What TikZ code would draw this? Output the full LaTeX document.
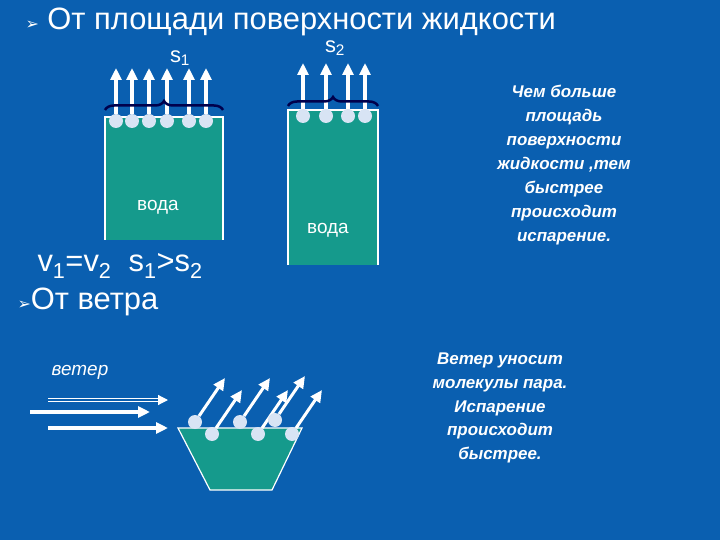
\documentclass[tikz,border=0pt]{standalone}
\usepackage{fontspec}
\setmainfont{Liberation Sans}
\newfontfamily\djvfont{DejaVu Sans}
\usetikzlibrary{arrows.meta,decorations.pathreplacing}
\definecolor{bg}{HTML}{0A5FB0}
\definecolor{water}{HTML}{159A8C}
\definecolor{mol}{HTML}{D8E4F4}
\begin{document}
\begin{tikzpicture}[x=1bp,y=-1bp,
  arr/.style={white,line width=3.5bp,-{Triangle[length=12bp,width=11bp]}},
  molc/.style={circle,fill=mol,inner sep=0,minimum size=14bp},
  tank/.style={fill=water,draw=white,line width=1.2bp},
  txt/.style={white,font=\fontsize{22}{24}\selectfont},
  note/.style={white,font=\bfseries\itshape\fontsize{17}{24}\selectfont,align=center},
  brc/.style={draw=black!70!blue,line width=2.5bp,decorate,decoration={brace,amplitude=9bp}}]
\useasboundingbox[fill=bg] (0,0) rectangle (720,540);
\node[white,anchor=west,font=\fontsize{31}{33}\selectfont] (t1) at (22,22) {{\djvfont\fontsize{16}{16}\selectfont ➢}\ От площади поверхности жидкости};
% tank 1
\path[tank] (105,240) -- (105,117) -- (223,117) -- (223,240);
\node[white,font=\fontsize{19}{21}\selectfont] (w1) at (158,207) {вода};
\foreach \x [count=\i] in {116,132,149,167,189,206}{
  \node[molc] (a\i) at (\x,121) {};
  \coordinate (a\i t) at (\x,68);
  \draw[arr] (a\i) -- (a\i t);}
\draw[brc] (105,110) -- (223,110);
\node[txt] (s1) at (180,58) {s\textsubscript{1}};
% tank 2
\path[tank] (288,265) -- (288,110) -- (378,110) -- (378,265);
\node[white,font=\fontsize{19}{21}\selectfont] (w2) at (328,230) {вода};
\foreach \x [count=\i] in {303,326,348,365}{
  \node[molc] (b\i) at (\x,116) {};
  \coordinate (b\i t) at (\x,63);
  \draw[arr] (b\i) -- (b\i t);}
\draw[brc] (288,106) -- (378,106);
\node[txt] (s2) at (335,48) {s\textsubscript{2}};
\node[note] (n1) at (564,165) {Чем больше\\площадь\\поверхности\\жидкости ,тем\\быстрее\\происходит\\испарение.};
\node[white,anchor=west,font=\fontsize{31}{33}\selectfont] (eq) at (34,266) {v\textsubscript{1}=v\textsubscript{2}\ \ s\textsubscript{1}>s\textsubscript{2}};
\node[white,anchor=west,font=\fontsize{31}{33}\selectfont] (t2) at (14,302) {{\djvfont\fontsize{16}{16}\selectfont ➢}От ветра};
% wind
\node[white,font=\itshape\fontsize{19}{21}\selectfont] (vt) at (80,372) {ветер};
\coordinate (w1a) at (48,400); \coordinate (w1b) at (168,400);
\coordinate (w2a) at (30,412); \coordinate (w2b) at (150,412);
\coordinate (w3a) at (48,428); \coordinate (w3b) at (168,428);
\draw[white,double=bg,double distance=1.5bp,line width=1.2bp,-{Triangle[length=10bp,width=10bp]}] (w1a) -- (w1b);
\draw[arr,line width=4.5bp] (w2a) -- (w2b);
\draw[arr,line width=4.5bp] (w3a) -- (w3b);
\path[tank] (178,428) -- (302,428) -- (272,490) -- (210,490) -- cycle;
\foreach \x/\y [count=\i] in {195/422,212/434,240/422,258/434,275/420,292/434}{
  \node[molc] (c\i) at (\x,\y) {};
  \coordinate (c\i t) at (\x+30,\y-44);
  \draw[arr,line width=3bp] (c\i) -- (c\i t);}
\node[note] (n2) at (500,408) {Ветер уносит\\молекулы пара.\\Испарение\\происходит\\быстрее.};
\end{tikzpicture}
\end{document}
